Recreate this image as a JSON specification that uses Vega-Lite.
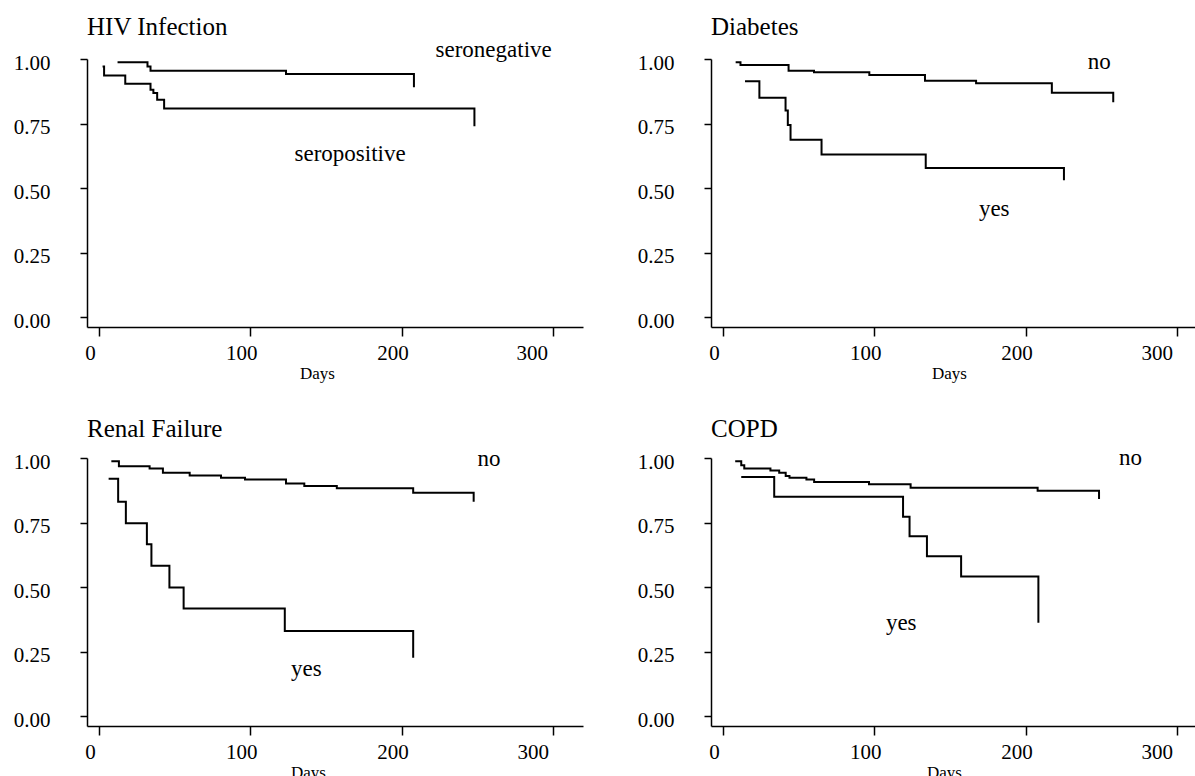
{
  "$schema": "https://vega.github.io/schema/vega-lite/v6.json",
  "background": "white",
  "padding": {"left": 13, "top": 14, "right": 0, "bottom": 0},
  "bounds": "flush",
  "columns": 2,
  "spacing": {"row": 131, "column": 128},
  "datasets": {
    "curves": [
      {"panel": "HIV", "group": "seronegative", "day": 12.2, "surv": 0.987},
      {"panel": "HIV", "group": "seronegative", "day": 32, "surv": 0.971},
      {"panel": "HIV", "group": "seronegative", "day": 34, "surv": 0.955},
      {"panel": "HIV", "group": "seronegative", "day": 123.6, "surv": 0.942},
      {"panel": "HIV", "group": "seronegative", "day": 208.2, "surv": 0.891},
      {"panel": "HIV", "group": "seropositive", "day": 2.3, "surv": 0.971},
      {"panel": "HIV", "group": "seropositive", "day": 3.3, "surv": 0.936},
      {"panel": "HIV", "group": "seropositive", "day": 17.3, "surv": 0.904},
      {"panel": "HIV", "group": "seropositive", "day": 34, "surv": 0.881},
      {"panel": "HIV", "group": "seropositive", "day": 35.9, "surv": 0.868},
      {"panel": "HIV", "group": "seropositive", "day": 38.4, "surv": 0.842},
      {"panel": "HIV", "group": "seropositive", "day": 43, "surv": 0.808},
      {"panel": "HIV", "group": "seropositive", "day": 248.2, "surv": 0.74},
      {"panel": "Diabetes", "group": "no", "day": 8.3, "surv": 0.987},
      {"panel": "Diabetes", "group": "no", "day": 11.5, "surv": 0.977},
      {"panel": "Diabetes", "group": "no", "day": 43.3, "surv": 0.955},
      {"panel": "Diabetes", "group": "no", "day": 60.1, "surv": 0.949},
      {"panel": "Diabetes", "group": "no", "day": 96.7, "surv": 0.938},
      {"panel": "Diabetes", "group": "no", "day": 133.5, "surv": 0.916},
      {"panel": "Diabetes", "group": "no", "day": 167.3, "surv": 0.906},
      {"panel": "Diabetes", "group": "no", "day": 217.4, "surv": 0.869},
      {"panel": "Diabetes", "group": "no", "day": 258, "surv": 0.833},
      {"panel": "Diabetes", "group": "yes", "day": 14.5, "surv": 0.914},
      {"panel": "Diabetes", "group": "yes", "day": 24, "surv": 0.85},
      {"panel": "Diabetes", "group": "yes", "day": 41.3, "surv": 0.801},
      {"panel": "Diabetes", "group": "yes", "day": 42.8, "surv": 0.745},
      {"panel": "Diabetes", "group": "yes", "day": 44.6, "surv": 0.688},
      {"panel": "Diabetes", "group": "yes", "day": 65.1, "surv": 0.63},
      {"panel": "Diabetes", "group": "yes", "day": 134, "surv": 0.578},
      {"panel": "Diabetes", "group": "yes", "day": 225.4, "surv": 0.531},
      {"panel": "Renal", "group": "no", "day": 8.1, "surv": 0.987},
      {"panel": "Renal", "group": "no", "day": 13.1, "surv": 0.968},
      {"panel": "Renal", "group": "no", "day": 33.4, "surv": 0.959},
      {"panel": "Renal", "group": "no", "day": 42.2, "surv": 0.943},
      {"panel": "Renal", "group": "no", "day": 59.9, "surv": 0.932},
      {"panel": "Renal", "group": "no", "day": 80.6, "surv": 0.924},
      {"panel": "Renal", "group": "no", "day": 96.5, "surv": 0.917},
      {"panel": "Renal", "group": "no", "day": 123.6, "surv": 0.901},
      {"panel": "Renal", "group": "no", "day": 135.7, "surv": 0.892},
      {"panel": "Renal", "group": "no", "day": 157.2, "surv": 0.883},
      {"panel": "Renal", "group": "no", "day": 207.7, "surv": 0.866},
      {"panel": "Renal", "group": "no", "day": 247.7, "surv": 0.831},
      {"panel": "Renal", "group": "yes", "day": 6.3, "surv": 0.92},
      {"panel": "Renal", "group": "yes", "day": 12.6, "surv": 0.831},
      {"panel": "Renal", "group": "yes", "day": 17.7, "surv": 0.748},
      {"panel": "Renal", "group": "yes", "day": 31.6, "surv": 0.666},
      {"panel": "Renal", "group": "yes", "day": 34.6, "surv": 0.583},
      {"panel": "Renal", "group": "yes", "day": 46.5, "surv": 0.499},
      {"panel": "Renal", "group": "yes", "day": 55.9, "surv": 0.418},
      {"panel": "Renal", "group": "yes", "day": 122.8, "surv": 0.331},
      {"panel": "Renal", "group": "yes", "day": 207.7, "surv": 0.227},
      {"panel": "COPD", "group": "no", "day": 8, "surv": 0.987},
      {"panel": "COPD", "group": "no", "day": 12, "surv": 0.972},
      {"panel": "COPD", "group": "no", "day": 14, "surv": 0.959},
      {"panel": "COPD", "group": "no", "day": 31.3, "surv": 0.952},
      {"panel": "COPD", "group": "no", "day": 37.1, "surv": 0.943},
      {"panel": "COPD", "group": "no", "day": 41.4, "surv": 0.93},
      {"panel": "COPD", "group": "no", "day": 43.9, "surv": 0.924},
      {"panel": "COPD", "group": "no", "day": 55.1, "surv": 0.917},
      {"panel": "COPD", "group": "no", "day": 60.2, "surv": 0.907},
      {"panel": "COPD", "group": "no", "day": 96.5, "surv": 0.898},
      {"panel": "COPD", "group": "no", "day": 124, "surv": 0.885},
      {"panel": "COPD", "group": "no", "day": 208, "surv": 0.873},
      {"panel": "COPD", "group": "no", "day": 248.6, "surv": 0.841},
      {"panel": "COPD", "group": "yes", "day": 12, "surv": 0.926},
      {"panel": "COPD", "group": "yes", "day": 33.8, "surv": 0.85},
      {"panel": "COPD", "group": "yes", "day": 119, "surv": 0.773},
      {"panel": "COPD", "group": "yes", "day": 123.3, "surv": 0.697},
      {"panel": "COPD", "group": "yes", "day": 134.8, "surv": 0.62},
      {"panel": "COPD", "group": "yes", "day": 157.4, "surv": 0.541},
      {"panel": "COPD", "group": "yes", "day": 208.5, "surv": 0.363}
    ],
    "labels": [
      {"panel": "HIV", "label": "seronegative", "day": 260.9, "surv": 1.035},
      {"panel": "HIV", "label": "seropositive", "day": 166, "surv": 0.632},
      {"panel": "Diabetes", "label": "no", "day": 248.7, "surv": 0.99},
      {"panel": "Diabetes", "label": "yes", "day": 179.3, "surv": 0.42},
      {"panel": "Renal", "label": "no", "day": 257.8, "surv": 0.996},
      {"panel": "Renal", "label": "yes", "day": 137, "surv": 0.185},
      {"panel": "COPD", "label": "no", "day": 269.4, "surv": 1.0},
      {"panel": "COPD", "label": "yes", "day": 117.8, "surv": 0.363}
    ]
  },
  "concat": [
    {
      "width": 496, "height": 268,
      "title": {"text": "HIV Infection", "font": "Liberation Serif", "fontSize": 25, "fontWeight": "normal", "anchor": "start", "frame": "group", "offset": -1, "color": "black"},
      "layer": [
        {
          "data": {"name": "curves"},
          "transform": [{"filter": "datum.panel === 'HIV'"}],
          "mark": {"type": "line", "interpolate": "step-after", "color": "black", "strokeWidth": 2},
          "encoding": {
            "x": {"field": "day", "type": "quantitative", "scale": {"domain": [-8, 320], "nice": false, "zero": false},
                  "axis": {"title": "Days", "titleX": 230, "values": [0, 100, 200, 300], "grid": false, "domainColor": "black", "domainWidth": 1.5, "tickColor": "black", "tickWidth": 1.5, "tickSize": 9, "labelFont": "Liberation Serif", "labelFontSize": 21, "labelColor": "black", "labelPadding": 6, "labelOffset": {"condition": {"test": "datum.value === 300", "value": -21}, "value": -9}, "titleFont": "Liberation Serif", "titleFontSize": 17, "titleFontWeight": "normal", "titleColor": "black", "titlePadding": 2}},
            "y": {"field": "surv", "type": "quantitative", "scale": {"domain": [-0.037, 1], "nice": false, "zero": false},
                  "axis": {"title": null, "values": [0, 0.25, 0.5, 0.75, 1], "format": ".2f", "grid": false, "domainColor": "black", "domainWidth": 1.5, "tickColor": "black", "tickWidth": 1.5, "tickSize": 7, "labelFont": "Liberation Serif", "labelFontSize": 21, "labelColor": "black", "labelPadding": 30, "labelOffset": 4}},
            "detail": {"field": "group"}
          }
        },
        {
          "data": {"name": "labels"},
          "transform": [{"filter": "datum.panel === 'HIV'"}],
          "mark": {"type": "text", "font": "Liberation Serif", "fontSize": 23, "color": "black"},
          "encoding": {
            "x": {"field": "day", "type": "quantitative"},
            "y": {"field": "surv", "type": "quantitative"},
            "text": {"field": "label"}
          }
        }
      ]
    },
    {
      "width": 496, "height": 268,
      "title": {"text": "Diabetes", "font": "Liberation Serif", "fontSize": 25, "fontWeight": "normal", "anchor": "start", "frame": "group", "offset": 11, "color": "black"},
      "layer": [
        {
          "data": {"name": "curves"},
          "transform": [{"filter": "datum.panel === 'Diabetes'"}],
          "mark": {"type": "line", "interpolate": "step-after", "color": "black", "strokeWidth": 2},
          "encoding": {
            "x": {"field": "day", "type": "quantitative", "scale": {"domain": [-8, 320], "nice": false, "zero": false},
                  "axis": {"title": "Days", "titleX": 238, "values": [0, 100, 200, 300], "grid": false, "domainColor": "black", "domainWidth": 1.5, "tickColor": "black", "tickWidth": 1.5, "tickSize": 9, "labelFont": "Liberation Serif", "labelFontSize": 21, "labelColor": "black", "labelPadding": 6, "labelOffset": {"condition": {"test": "datum.value === 300", "value": -20}, "value": -9}, "titleFont": "Liberation Serif", "titleFontSize": 17, "titleFontWeight": "normal", "titleColor": "black", "titlePadding": 2}},
            "y": {"field": "surv", "type": "quantitative", "scale": {"domain": [-0.037, 1], "nice": false, "zero": false},
                  "axis": {"title": null, "values": [0, 0.25, 0.5, 0.75, 1], "format": ".2f", "grid": false, "domainColor": "black", "domainWidth": 1.5, "tickColor": "black", "tickWidth": 1.5, "tickSize": 7, "labelFont": "Liberation Serif", "labelFontSize": 21, "labelColor": "black", "labelPadding": 30, "labelOffset": 4}},
            "detail": {"field": "group"}
          }
        },
        {
          "data": {"name": "labels"},
          "transform": [{"filter": "datum.panel === 'Diabetes'"}],
          "mark": {"type": "text", "font": "Liberation Serif", "fontSize": 23, "color": "black"},
          "encoding": {
            "x": {"field": "day", "type": "quantitative"},
            "y": {"field": "surv", "type": "quantitative"},
            "text": {"field": "label"}
          }
        }
      ]
    },
    {
      "width": 496, "height": 268,
      "title": {"text": "Renal Failure", "font": "Liberation Serif", "fontSize": 25, "fontWeight": "normal", "anchor": "start", "frame": "group", "offset": 6, "color": "black"},
      "layer": [
        {
          "data": {"name": "curves"},
          "transform": [{"filter": "datum.panel === 'Renal'"}],
          "mark": {"type": "line", "interpolate": "step-after", "color": "black", "strokeWidth": 2},
          "encoding": {
            "x": {"field": "day", "type": "quantitative", "scale": {"domain": [-8, 320], "nice": false, "zero": false},
                  "axis": {"title": "Days", "titleX": 221, "values": [0, 100, 200, 300], "grid": false, "domainColor": "black", "domainWidth": 1.5, "tickColor": "black", "tickWidth": 1.5, "tickSize": 9, "labelFont": "Liberation Serif", "labelFontSize": 21, "labelColor": "black", "labelPadding": 6, "labelOffset": {"condition": {"test": "datum.value === 300", "value": -20}, "value": -9}, "titleFont": "Liberation Serif", "titleFontSize": 17, "titleFontWeight": "normal", "titleColor": "black", "titlePadding": 2}},
            "y": {"field": "surv", "type": "quantitative", "scale": {"domain": [-0.037, 1], "nice": false, "zero": false},
                  "axis": {"title": null, "values": [0, 0.25, 0.5, 0.75, 1], "format": ".2f", "grid": false, "domainColor": "black", "domainWidth": 1.5, "tickColor": "black", "tickWidth": 1.5, "tickSize": 7, "labelFont": "Liberation Serif", "labelFontSize": 21, "labelColor": "black", "labelPadding": 30, "labelOffset": 4}},
            "detail": {"field": "group"}
          }
        },
        {
          "data": {"name": "labels"},
          "transform": [{"filter": "datum.panel === 'Renal'"}],
          "mark": {"type": "text", "font": "Liberation Serif", "fontSize": 23, "color": "black"},
          "encoding": {
            "x": {"field": "day", "type": "quantitative"},
            "y": {"field": "surv", "type": "quantitative"},
            "text": {"field": "label"}
          }
        }
      ]
    },
    {
      "width": 496, "height": 268,
      "title": {"text": "COPD", "font": "Liberation Serif", "fontSize": 25, "fontWeight": "normal", "anchor": "start", "frame": "group", "offset": 5, "color": "black"},
      "layer": [
        {
          "data": {"name": "curves"},
          "transform": [{"filter": "datum.panel === 'COPD'"}],
          "mark": {"type": "line", "interpolate": "step-after", "color": "black", "strokeWidth": 2},
          "encoding": {
            "x": {"field": "day", "type": "quantitative", "scale": {"domain": [-8, 320], "nice": false, "zero": false},
                  "axis": {"title": "Days", "titleX": 233, "values": [0, 100, 200, 300], "grid": false, "domainColor": "black", "domainWidth": 1.5, "tickColor": "black", "tickWidth": 1.5, "tickSize": 9, "labelFont": "Liberation Serif", "labelFontSize": 21, "labelColor": "black", "labelPadding": 6, "labelOffset": {"condition": {"test": "datum.value === 300", "value": -20}, "value": -9}, "titleFont": "Liberation Serif", "titleFontSize": 17, "titleFontWeight": "normal", "titleColor": "black", "titlePadding": 2}},
            "y": {"field": "surv", "type": "quantitative", "scale": {"domain": [-0.037, 1], "nice": false, "zero": false},
                  "axis": {"title": null, "values": [0, 0.25, 0.5, 0.75, 1], "format": ".2f", "grid": false, "domainColor": "black", "domainWidth": 1.5, "tickColor": "black", "tickWidth": 1.5, "tickSize": 7, "labelFont": "Liberation Serif", "labelFontSize": 21, "labelColor": "black", "labelPadding": 30, "labelOffset": 4}},
            "detail": {"field": "group"}
          }
        },
        {
          "data": {"name": "labels"},
          "transform": [{"filter": "datum.panel === 'COPD'"}],
          "mark": {"type": "text", "font": "Liberation Serif", "fontSize": 23, "color": "black"},
          "encoding": {
            "x": {"field": "day", "type": "quantitative"},
            "y": {"field": "surv", "type": "quantitative"},
            "text": {"field": "label"}
          }
        }
      ]
    }
  ],
  "config": {
    "view": {"stroke": null}
  }
}
